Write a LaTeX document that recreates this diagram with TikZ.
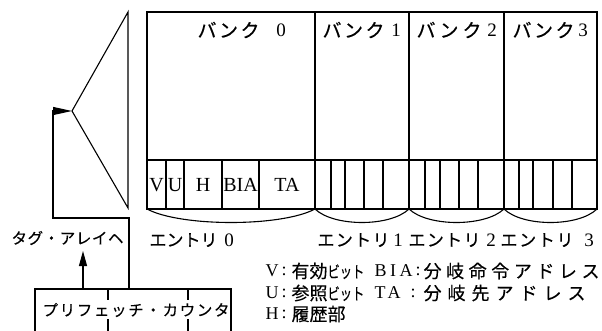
\documentclass[tikz,border=0pt]{standalone}
\usepackage{fontspec}
\setmainfont{Liberation Serif}
\newfontfamily\jpf[FakeBold=0.3]{Noto Sans CJK JP}
\usetikzlibrary{arrows.meta}
\newcommand\spreadtxt[2]{\makebox[#1][s]{#2}}
\newcommand\narrow[1]{\scalebox{0.68}[0.9]{#1}}
\begin{document}
\begin{tikzpicture}[x=1pt,y=-1pt,line width=1.1pt,line join=miter,
  lbl/.style={inner sep=0pt,anchor=west},
  jpbank/.style={lbl,font=\jpf\fontsize{19pt}{19pt}\selectfont},
  jpent/.style={lbl,font=\jpf\fontsize{17pt}{17pt}\selectfont},
  jpmid/.style={lbl,font=\jpf\fontsize{15.5pt}{16pt}\selectfont},
  jpleg/.style={lbl,font=\jpf\fontsize{18pt}{18pt}\selectfont},
  num/.style={inner sep=0pt,font=\fontsize{19pt}{19pt}\selectfont},
  fld/.style={inner sep=0pt,font=\fontsize{20pt}{20pt}\selectfont},
  leg/.style={lbl,font=\fontsize{18pt}{18pt}\selectfont},
  tri/.style={-{Triangle[length=#1,width=8pt]}}]
\useasboundingbox (0,0) rectangle (602,331);

% banks
\draw (147,12) rectangle (597,209);
\draw (147,160) -- (597,160);
\foreach \x in {315,409,504} \draw (\x,12) -- (\x,209);
\foreach \x in {166,184,222,259,331,345,364,383,425,440,459,478,519,533,553,572}
  \draw (\x,160) -- (\x,209);
\foreach \a/\b in {147/315,315/409,409/504,504/597}
  \draw (\a,209) .. controls ({\a+0.2*(\b-\a)},227) and ({\b-0.2*(\b-\a)},227) .. (\b,209);

% bank labels
\node[jpbank] (b0) at (197,30) {\spreadtxt{62pt}{バ\hfil ン\hfil ク}};
\node[num] (b0n) at (281,30) {0};
\node[jpbank] (b1) at (322,30) {\spreadtxt{62pt}{バ\hfil ン\hfil ク}};
\node[num] (b1n) at (396,30) {1};
\node[jpbank] (b2) at (416,30) {\spreadtxt{65pt}{バ\hfil ン\hfil ク}};
\node[num] (b2n) at (492,30) {2};
\node[jpbank] (b3) at (512,30) {\spreadtxt{62pt}{バ\hfil ン\hfil ク}};
\node[num] (b3n) at (583,30) {3};

% fields
\node[fld] (fv) at (156.5,185) {V};
\node[fld] (fu) at (175,185) {U};
\node[fld] (fh) at (203,185) {H};
\node[fld] (fbia) at (240.5,185) {BIA};
\node[fld] (fta) at (287,185) {TA};

% entry labels
\node[jpent] (e0) at (149,240) {\spreadtxt{68pt}{エ\hfil ン\hfil ト\hfil リ}};
\node[num] (e0n) at (229,240) {0};
\node[jpent] (e1) at (317,240) {\spreadtxt{72pt}{エ\hfil ン\hfil ト\hfil リ}};
\node[num] (e1n) at (398,240) {1};
\node[jpent] (e2) at (408,240) {\spreadtxt{72pt}{エ\hfil ン\hfil ト\hfil リ}};
\node[num] (e2n) at (491,240) {2};
\node[jpent] (e3) at (500,240) {\spreadtxt{73pt}{エ\hfil ン\hfil ト\hfil リ}};
\node[num] (e3n) at (589,240) {3};

% selector
\coordinate (st) at (128,12);
\coordinate (sa) at (72,111);
\coordinate (sb) at (128,208);
\draw (st) -- (sa) -- (sb) -- cycle;

% prefetch counter
\coordinate (cl) at (35,331);
\coordinate (ctl) at (35,289);
\coordinate (ctr) at (231,289);
\coordinate (cr) at (231,331);
\draw (cl) -- (ctl) -- (ctr) -- (cr);
\foreach \x in {108,188} {
  \draw (\x,289) -- (\x,300);
  \draw (\x,319) -- (\x,331);
}
\node[jpmid] (cnt) at (42,310) {\spreadtxt{187pt}{プ\hfil リ\hfil フ\hfil ェ\hfil ッ\hfil チ\hfil ・\hfil カ\hfil ウ\hfil ン\hfil タ}};

\coordinate (c1) at (129,289);
\coordinate (c2) at (53,111);
\draw[tri=19pt] (c1) -- (129,218) -- (53,218) -- (c2) -- (sa);

\coordinate (u1) at (83,289);
\coordinate (u2) at (83,251);
\draw[tri=15pt] (u1) -- (u2);
\node[jpmid] (tag) at (11,238) {\spreadtxt{112pt}{タ\hfil グ\hfil ・\hfil ア\hfil レ\hfil イ\hfil ヘ}};

% legend
\node[leg] (lv) at (265,271) {V};
\node[leg] (lvc) at (281,271) {:};
\node[jpleg] (lv2) at (291,271) {有効\narrow{ビット}};
\node[leg] (lb) at (374,271) {\spreadtxt{38pt}{B\hfil I\hfil A}};
\node[leg] (lbc) at (415,271) {:};
\node[jpleg] (lb2) at (423,271) {\spreadtxt{176pt}{分\hfil 岐\hfil 命\hfil 令\hfil ア\hfil ド\hfil レ\hfil ス}};

\node[leg] (lu) at (265,293) {U};
\node[leg] (luc) at (281,293) {:};
\node[jpleg] (lu2) at (291,293) {参照\narrow{ビット}};
\node[leg] (lt) at (374,293) {\spreadtxt{26pt}{T\hfil A}};
\node[leg] (ltc) at (410,293) {:};
\node[jpleg] (lt2) at (423,293) {\spreadtxt{162pt}{分\hfil 岐\hfil 先\hfil ア\hfil ド\hfil レ\hfil ス}};

\node[leg] (lh) at (265,314) {H};
\node[leg] (lhc) at (281,314) {:};
\node[jpleg] (lh2) at (291,314) {\spreadtxt{54pt}{履\hfil 歴\hfil 部}};
\end{tikzpicture}
\end{document}
